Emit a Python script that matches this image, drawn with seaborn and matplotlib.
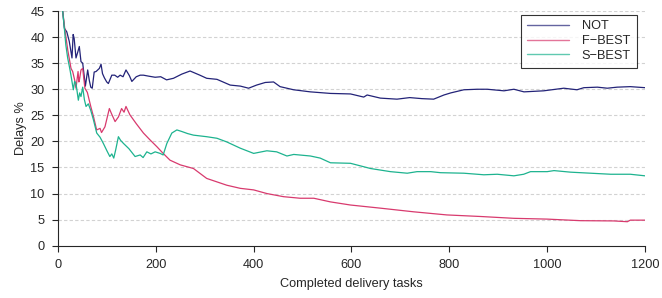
import pandas as pd
import numpy as np
import matplotlib
matplotlib.use("Agg")
import matplotlib.pyplot as plt
import seaborn as sns

# values (task count, delay %)
not_x = [5, 9.6, 13, 18, 23, 26, 28.6, 31, 33, 36.8, 40, 43.6, 47, 50.5, 53, 56, 60.7, 64, 67,
         70, 74, 77.8, 84.6, 88, 91, 94.8, 99.6, 103, 110, 116, 122, 127, 133, 139, 146, 151,
         160, 168, 174.7, 186, 198.6, 210, 222, 236, 253, 270, 280, 290, 304, 325, 352, 373,
         389.6, 406, 423.7, 440.7, 454, 481.7, 515.9, 557, 598, 625, 632, 659, 693, 719, 744,
         768, 789, 803, 829.7, 857, 877.6, 911.7, 932, 952.6, 993, 1034, 1061, 1075, 1102.7,
         1123, 1143, 1170, 1200]
not_y = [48, 45, 41.7, 41, 39.2, 37.5, 36, 40.5, 39.8, 36, 37, 38.2, 35.3, 35, 33, 30.6, 33.7,
         31.7, 30.4, 30.2, 33.3, 33.4, 34, 34.8, 33, 32.2, 31.4, 31.1, 32.7, 32.7, 32.3, 32.7,
         32.4, 33.7, 32.6, 31.5, 32.4, 32.7, 32.7, 32.5, 32.3, 32.4, 31.8, 32.1, 32.9, 33.5,
         33.1, 32.7, 32.1, 31.9, 30.8, 30.6, 30.2, 30.8, 31.3, 31.4, 30.5, 29.9, 29.5, 29.2,
         29.1, 28.5, 28.9, 28.3, 28.1, 28.4, 28.2, 28.1, 28.9, 29.3, 29.9, 30.0, 30.0, 29.7,
         30.0, 29.5, 29.7, 30.2, 29.9, 30.3, 30.4, 30.2, 30.4, 30.5, 30.3]

fbest_x = [5, 9.6, 14, 20, 26.6, 30, 34, 36.8, 41, 42.7, 44, 47, 50.5, 55, 60, 67, 73, 79, 86,
           89, 96, 105, 109, 116.7, 123.6, 130, 135, 139, 147, 160, 174.7, 188, 202, 215, 229,
           250, 277, 304, 345, 372.6, 400, 427, 461, 495, 523, 557, 598, 659, 727, 795, 864,
           932, 1000, 1068, 1136, 1164, 1170, 1200]
fbest_y = [48, 45, 41.5, 37.5, 34, 33.4, 31.8, 30.2, 33.4, 31.4, 31.9, 33.7, 34, 30.2, 29.4,
           26.7, 24.6, 22.2, 22.5, 21.7, 22.8, 26.3, 25.4, 23.8, 24.7, 26.3, 25.6, 26.7, 25.1,
           23.4, 21.6, 20.3, 19, 17.7, 16.4, 15.5, 14.8, 12.9, 11.6, 11.0, 10.7, 10.0, 9.4, 9.1,
           9.1, 8.4, 7.8, 7.2, 6.5, 5.9, 5.6, 5.25, 5.1, 4.8, 4.75, 4.6, 4.9, 4.9]

sbest_x = [5, 9.6, 13, 16, 19.8, 24.6, 27, 31.4, 34, 36.8, 41.6, 44.3, 47, 50.5, 54, 57.3, 62,
           66.8, 72, 79.2, 86, 92.8, 100, 106, 110, 114, 118, 123.5, 128, 134, 145, 157.6, 168,
           174, 181.6, 190, 198.6, 208.8, 215, 222.5, 232.7, 243, 253, 265, 277, 304, 325, 345,
           372.6, 400, 427, 447, 468, 482, 516, 536, 557, 598, 639, 679.6, 714, 734, 762, 782,
           829.7, 870.6, 898, 932, 952, 966, 1000, 1014, 1048, 1089, 1130, 1170, 1200]
sbest_y = [48, 45, 41.7, 38.5, 36, 33.7, 32.4, 29.9, 31.5, 31.1, 27.9, 29.3, 28.6, 30.4, 28,
           26.7, 27.2, 26.0, 24.3, 21.6, 20.8, 19.6, 18.2, 17.1, 17.6, 16.8, 18.4, 20.9, 20.2,
           19.6, 18.6, 17.1, 17.4, 16.9, 18.0, 17.6, 18.0, 17.7, 17.4, 19.6, 21.6, 22.2, 21.9,
           21.5, 21.2, 20.9, 20.6, 19.9, 18.7, 17.7, 18.2, 18.0, 17.2, 17.5, 17.2, 16.8, 15.9,
           15.8, 14.8, 14.2, 13.9, 14.2, 14.2, 14.0, 13.9, 13.6, 13.7, 13.4, 13.7, 14.2, 14.2,
           14.4, 14.1, 13.9, 13.7, 13.7, 13.4]

series_names = ["NOT", "F\u2212BEST", "S\u2212BEST"]
colors = ["#232378", "#d83a6e", "#1db38f"]

x_ticks = [0, 200, 400, 600, 800, 1000, 1200]
y_ticks = [0, 5, 10, 15, 20, 25, 30, 35, 40, 45]

df = pd.concat([
    pd.DataFrame({"tasks": not_x, "delay": not_y, "method": series_names[0]}),
    pd.DataFrame({"tasks": fbest_x, "delay": fbest_y, "method": series_names[1]}),
    pd.DataFrame({"tasks": sbest_x, "delay": sbest_y, "method": series_names[2]}),
])

sns.set_style("ticks")
plt.rcParams["font.family"] = ["Liberation Sans", "DejaVu Sans"]

fig = plt.figure(figsize=(6.62, 2.98), dpi=100)
ax = fig.add_axes([0.0876, 0.1755, 0.8867, 0.7875])

sns.lineplot(data=df, x="tasks", y="delay", hue="method", palette=colors,
             linewidth=0.9, sort=False, estimator=None, ax=ax)

ax.set_xlim(0, 1200)
ax.set_ylim(0, 45)
ax.set_xticks(x_ticks)
ax.set_yticks(y_ticks)
ax.tick_params(axis="both", labelsize=9.2, length=4.3, width=0.8, direction="out", pad=5.5)
for yv in y_ticks[1:]:
    ax.axhline(yv, color="#d2d2d2", linestyle=(0, (3, 2)), linewidth=0.8, zorder=0)
ax.spines["top"].set_visible(False)
ax.spines["right"].set_visible(False)
ax.spines["left"].set_linewidth(0.8)
ax.spines["bottom"].set_linewidth(0.8)
ax.set_xlabel("Completed delivery tasks", fontsize=9.2, labelpad=5)
ax.set_ylabel("Delays %", fontsize=9.2, labelpad=2)

leg = ax.legend(loc="upper right", bbox_to_anchor=(0.986, 0.985), fontsize=9.2,
                frameon=True, fancybox=False, handlelength=3.3, handletextpad=1.0,
                borderpad=0.45, labelspacing=0.22, borderaxespad=0)
leg.get_frame().set_edgecolor("black")
leg.get_frame().set_linewidth(0.8)
for line in leg.get_lines():
    line.set_linewidth(1.0)
    line.set_alpha(0.7)

fig.savefig("out.png", dpi=100)
